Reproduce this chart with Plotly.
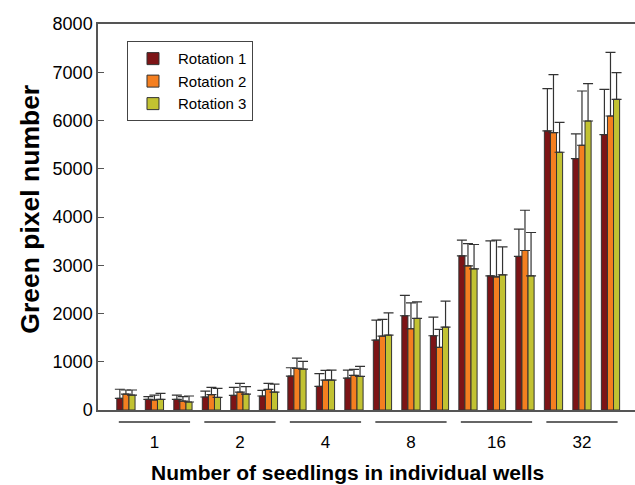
import plotly.graph_objects as go

groups = ["1", "2", "4", "8", "16", "32"]
series_names = ["Rotation 1", "Rotation 2", "Rotation 3"]
colors = ["#7d1416", "#f47f20", "#c2c232"]

# 18 clusters: 6 seedling groups x 3 replicates
rot1 = [242, 221, 221, 269, 303, 290, 704, 490, 662, 1449, 1953, 1539, 3195, 2781, 3182, 5783, 5211, 5708]
rot2 = [331, 207, 186, 317, 372, 428, 862, 621, 718, 1532, 1684, 1298, 2988, 2760, 3306, 5749, 5487, 6093]
rot3 = [310, 221, 166, 262, 331, 372, 849, 621, 697, 1553, 1898, 1718, 2926, 2802, 2781, 5342, 5990, 6439]
# top of upper error bar
rot1_top = [430, 276, 310, 393, 469, 407, 876, 752, 828, 1863, 2374, 1925, 3520, 3505, 3747, 6660, 5721, 6646]
rot2_top = [414, 310, 276, 469, 552, 552, 1076, 821, 842, 1877, 2222, 1671, 3450, 3520, 4140, 6950, 6611, 7412]
rot3_top = [414, 345, 290, 449, 483, 538, 1007, 828, 904, 2014, 2243, 2256, 3430, 3381, 3679, 5963, 6764, 6992]

values = [rot1, rot2, rot3]
tops = [rot1_top, rot2_top, rot3_top]
xpos = list(range(len(rot1)))

fig = go.Figure()
for name, col, v, t in zip(series_names, colors, values, tops):
    fig.add_trace(go.Bar(
        x=xpos, y=v, name=name,
        marker=dict(color=col, line=dict(color="#333333", width=1)),
        error_y=dict(type="data", symmetric=False,
                     array=[b - a for a, b in zip(v, t)],
                     arrayminus=[0] * len(v),
                     color="#333333", thickness=1.2, width=5),
    ))

group_centers = [3 * g + 1 for g in range(len(groups))]
for c in group_centers:
    fig.add_shape(type="line", xref="x", yref="paper",
                  x0=c - 1.25, x1=c + 1.25, y0=-0.031, y1=-0.031,
                  line=dict(color="#333333", width=1.5))

fig.add_annotation(text="<b>Number of seedlings in individual wells</b>",
                   xref="paper", yref="paper", x=0.464, y=-0.163,
                   showarrow=False, font=dict(size=21, color="black"),
                   yanchor="middle")
fig.add_annotation(text="<b>Green pixel number</b>",
                   xref="paper", yref="paper", x=-0.127, y=0.521,
                   showarrow=False, textangle=-90,
                   font=dict(size=26.5, color="black"),
                   xanchor="center", yanchor="middle")

fig.update_layout(
    width=635, height=485,
    margin=dict(l=98, r=0, t=24, b=75),
    paper_bgcolor="white", plot_bgcolor="white",
    barmode="group", bargap=0.36, bargroupgap=0,
    font=dict(family="Liberation Sans, Arial, sans-serif", color="black"),
    showlegend=True,
    legend=dict(x=0.054, y=0.955, xanchor="left", yanchor="top",
                bordercolor="#444444", borderwidth=1, bgcolor="white",
                font=dict(size=15), itemwidth=40, tracegroupgap=0),
    xaxis=dict(range=[-0.98, 17.86], tickvals=group_centers, ticktext=groups,
               showline=True, linecolor="#555555", linewidth=1.5, mirror=True,
               ticks="", showgrid=False, zeroline=False,
               tickfont=dict(size=17), ticklabelstandoff=16),
    yaxis=dict(range=[0, 8000], tickvals=list(range(0, 8001, 1000)),
               showline=True, linecolor="#555555", linewidth=1.5,
               ticks="inside", ticklen=6, tickcolor="#555555",
               showgrid=False, zeroline=False, tickfont=dict(size=18)),
)

fig.write_html("out.html", config={"displayModeBar": False},
               post_script="document.body.style.margin='0';document.body.style.padding='0';")
